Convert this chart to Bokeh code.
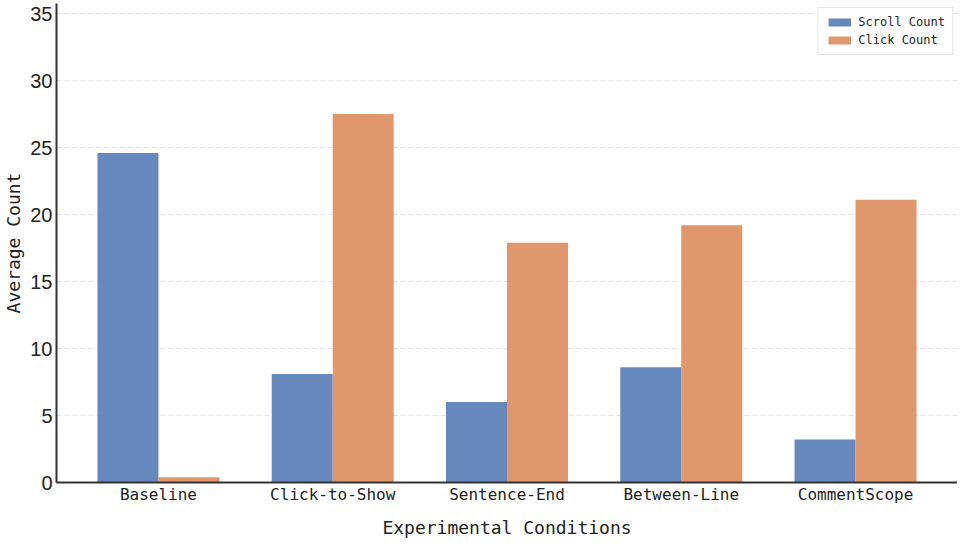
import numpy as np
from bokeh.plotting import figure
from bokeh.models import Range1d, FixedTicker, Legend, LegendItem
from bokeh.embed import file_html
from bokeh.resources import INLINE

categories = ["Baseline", "Click-to-Show", "Sentence-End", "Between-Line", "CommentScope"]
scroll_count = [24.6, 8.1, 6.0, 8.6, 3.2]
click_count = [0.4, 27.5, 17.9, 19.2, 21.1]
y_ticks = [0, 5, 10, 15, 20, 25, 30, 35]

BLUE = "#6788bd"
ORANGE = "#e1976c"
MONO = "DejaVu Sans Mono"

x = np.arange(len(categories))
w = 0.35

p = figure(width=957, height=540, output_backend="svg", toolbar_location=None,
           x_range=Range1d(-0.585, 4.585), y_range=Range1d(0, 35.75),
           min_border_left=0, min_border_right=0, min_border_top=3, min_border_bottom=0)
p.outline_line_color = None

r1 = p.vbar(x=x - w / 2, top=scroll_count, width=w, fill_color=BLUE, line_color=None)
r2 = p.vbar(x=x + w / 2, top=click_count, width=w, fill_color=ORANGE, line_color=None)

p.xgrid.grid_line_color = None
p.ygrid.grid_line_color = "#e3e3e3"
p.ygrid.grid_line_dash = "5 3"
p.ygrid.grid_line_width = 1
p.ygrid.ticker = FixedTicker(ticks=y_ticks)

p.xaxis.ticker = FixedTicker(ticks=list(x))
p.xaxis.major_label_overrides = {int(i): c for i, c in zip(x, categories)}
p.yaxis.ticker = FixedTicker(ticks=y_ticks)

for ax in (p.xaxis[0], p.yaxis[0]):
    ax.axis_line_color = "#333333"
    ax.axis_line_width = 2
    ax.major_tick_line_color = None
    ax.minor_tick_line_color = None
    ax.major_tick_out = 0
    ax.major_tick_in = 0
    ax.minor_tick_out = 0
    ax.minor_tick_in = 0
    ax.major_label_text_color = "#222222"
    ax.axis_label_text_color = "#222222"
    ax.axis_label_text_font_style = "normal"
    ax.axis_label_text_font = MONO

p.xaxis.axis_label = "Experimental Conditions"
p.xaxis.axis_label_text_font_size = "18px"
p.xaxis.major_label_text_font = MONO
p.xaxis.major_label_text_font_size = "16px"
p.xaxis.major_label_standoff = 2
p.xaxis.axis_label_standoff = 10

p.yaxis.axis_label = "Average Count"
p.yaxis.axis_label_text_font_size = "18px"
p.yaxis.major_label_text_font = "Liberation Sans"
p.yaxis.major_label_text_font_size = "20px"
p.yaxis.major_label_standoff = 4
p.yaxis.axis_label_standoff = 3

legend = Legend(items=[LegendItem(label="Scroll Count", renderers=[r1]),
                       LegendItem(label="Click Count", renderers=[r2])],
                location="top_right")
legend.label_text_font = MONO
legend.label_text_font_size = "12px"
legend.label_text_color = "#222222"
legend.glyph_width = 28
legend.glyph_height = 10
legend.label_height = 12
legend.spacing = 4
legend.padding = 7
legend.margin = 4
legend.border_line_color = "#cccccc"
legend.border_line_width = 1
legend.background_fill_alpha = 0.9
p.add_layout(legend)

open("out.html", "w").write(file_html(p, INLINE))
